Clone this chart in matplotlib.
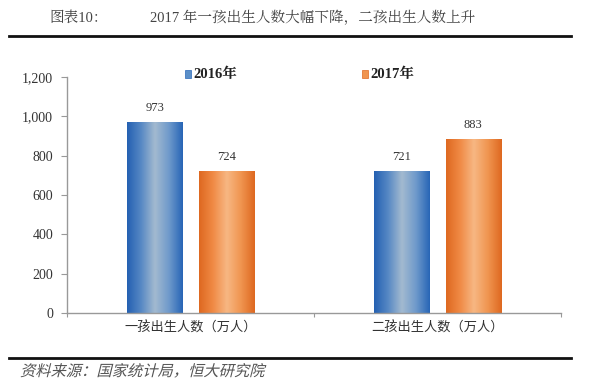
import matplotlib

matplotlib.use("Agg")
import matplotlib.pyplot as plt
import numpy as np
from matplotlib.colors import LinearSegmentedColormap
from matplotlib.font_manager import FontProperties
from matplotlib.lines import Line2D
from matplotlib.patches import PathPatch, Rectangle
from matplotlib.textpath import TextPath
from matplotlib.transforms import Affine2D

categories = ["一孩出生人数（万人）", "二孩出生人数（万人）"]
series_names = ["2016年", "2017年"]
values_2016 = [973, 721]
values_2017 = [724, 883]
y_ticks = [0, 200, 400, 600, 800, 1000, 1200]

SERIF = ["Liberation Serif", "Noto Serif CJK SC", "Noto Sans CJK SC"]
CJK = ["Noto Sans CJK SC", "DejaVu Sans"]

blue_cmap = LinearSegmentedColormap.from_list(
    "blue_bar", ["#2460b2", "#5688c4", "#a3bad0", "#6f9acb", "#2765b6"]
)
orange_cmap = LinearSegmentedColormap.from_list(
    "orange_bar", ["#de6820", "#f08a45", "#f7b783", "#f09550", "#de6820"]
)

fig = plt.figure(figsize=(6.0, 3.86), dpi=100)
ax = fig.add_axes([0.1117, 0.189, 0.8233, 0.6115])

x = np.arange(len(categories)) + 0.5
width = 0.223
offset = 0.144
gradient = np.linspace(0, 1, 256).reshape(1, -1)


def gradient_bars(xs, vals, cmap):
    for xc, v in zip(xs, vals):
        rect = Rectangle((xc - width / 2, 0), width, v, facecolor="none", edgecolor="none")
        ax.add_patch(rect)
        im = ax.imshow(
            gradient,
            cmap=cmap,
            aspect="auto",
            extent=(xc - width / 2, xc + width / 2, 0, v),
            interpolation="bicubic",
            zorder=2,
        )
        im.set_clip_path(rect)
        ax.text(xc, v + 40, f"{v}", ha="center", va="bottom", fontsize=9,
                family=SERIF, color="#333333")


gradient_bars(x - offset, values_2016, blue_cmap)
gradient_bars(x + offset, values_2017, orange_cmap)

ax.set_xlim(0, 2)
ax.set_ylim(0, 1200)
ax.set_yticks(y_ticks)
ax.set_yticklabels([f"{t:,}" for t in y_ticks], family=SERIF, fontsize=10, color="#333333")
ax.set_xticks([0, 1, 2])
ax.set_xticklabels([])
ax.set_xticks(x, minor=True)
ax.set_xticklabels(categories, minor=True, family=CJK, fontsize=9.5, color="#333333")
ax.tick_params(axis="x", which="minor", length=0, pad=6)
ax.tick_params(axis="x", which="major", length=3, color="#999999", direction="out")
ax.tick_params(axis="y", length=4, color="#999999", direction="out", pad=6)

for side in ("top", "right"):
    ax.spines[side].set_visible(False)
for side in ("left", "bottom"):
    ax.spines[side].set_color("#999999")
    ax.spines[side].set_linewidth(1.0)

# legend
fig.patches.append(Rectangle((0.308, 0.797), 0.011, 0.022, transform=fig.transFigure,
                             facecolor="#5b8fc8", edgecolor="#2a68b8", lw=0.5))
fig.text(0.323, 0.808, series_names[0], fontsize=10.5, weight="bold", family=SERIF,
         va="center", color="#222222")
fig.patches.append(Rectangle((0.603, 0.797), 0.011, 0.022, transform=fig.transFigure,
                             facecolor="#f09550", edgecolor="#e06a22", lw=0.5))
fig.text(0.618, 0.808, series_names[1], fontsize=10.5, weight="bold", family=SERIF,
         va="center", color="#222222")

# header and footer
fig.text(0.083, 0.955, "图表10：", fontsize=10.5, family=SERIF, va="center", color="#444444")
fig.text(0.25, 0.955, "2017 年一孩出生人数大幅下降，二孩出生人数上升", fontsize=10.5,
         family=SERIF, va="center", color="#444444")
fig.lines.append(Line2D([0.015, 0.952], [0.907, 0.907], transform=fig.transFigure,
                        color="#111111", lw=2.0))
fig.lines.append(Line2D([0.015, 0.952], [0.073, 0.073], transform=fig.transFigure,
                        color="#111111", lw=2.0))

# slanted source note (CJK fonts have no italic face)
src_path = TextPath((0, 0), "资料来源：国家统计局，恒大研究院", size=11,
                    prop=FontProperties(family="Noto Sans CJK SC"))
src_tf = (Affine2D().skew_deg(14, 0).scale(1 / 72).translate(0.2, 0.1)
          + fig.dpi_scale_trans)
fig.patches.append(PathPatch(src_path, transform=src_tf, facecolor="#555555",
                             edgecolor="none"))

fig.savefig("out.png", dpi=100, facecolor="white")
